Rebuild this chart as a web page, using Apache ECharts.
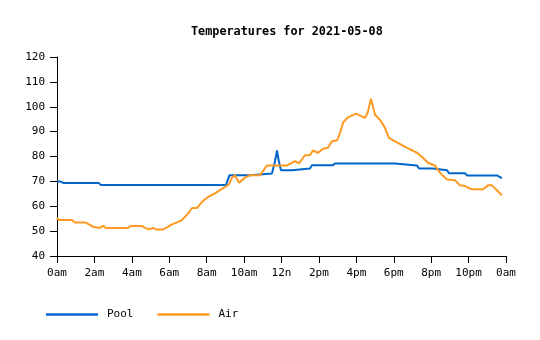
<!DOCTYPE html>
<html>
<head>
<meta charset="utf-8">
<script src="https://cdn.jsdelivr.net/npm/echarts@6/dist/echarts.min.js"></script>
<style>html,body{margin:0;padding:0;background:#fff}#c{width:540px;height:340px}</style>
</head>
<body>
<div id="c"></div>
<script>
const titleText = 'Temperatures for 2021-05-08';
const seriesNames = ['Pool', 'Air'];
const xTicks = [0, 2, 4, 6, 8, 10, 12, 14, 16, 18, 20, 22, 24];
const xTickLabels = ['0am','2am','4am','6am','8am','10am','12n','2pm','4pm','6pm','8pm','10pm','0am'];
const yTicks = [40, 50, 60, 70, 80, 90, 100, 110, 120];

// [hour, temperature]
const poolData = [
  [0, 70], [0.16, 70], [0.37, 69.3], [2.24, 69.3], [2.35, 68.5], [9.03, 68.5],
  [9.22, 72.5], [10.32, 72.5], [10.42, 73.2], [11.49, 73.2], [11.65, 78],
  [11.76, 82.4], [11.86, 78], [11.97, 74.5], [12.56, 74.5], [12.66, 75.2],
  [13.52, 75.2], [13.63, 76.5], [14.75, 76.5], [14.86, 77.2], [18.07, 77.2],
  [18.17, 76.4], [19.24, 76.4], [19.35, 75.2], [20.1, 75.2], [20.2, 74.5],
  [20.84, 74.5], [20.95, 73.3], [21.81, 73.3], [21.91, 72.4], [23.52, 72.4],
  [23.78, 71.3]
];
const airData = [
  [0, 55.3], [0.11, 54.5], [0.8, 54.5], [0.96, 53.5], [1.5, 53.5], [1.76, 52.5],
  [1.92, 51.8], [2.3, 51.3], [2.46, 52.1], [2.62, 51.3], [3.79, 51.3], [3.96, 52.1],
  [4.54, 52.1], [4.7, 51.3], [4.92, 50.7], [5.13, 51.3], [5.29, 50.7], [5.67, 50.7],
  [5.88, 51.5], [6.09, 52.5], [6.41, 53.5], [6.68, 54.4], [6.84, 55.8], [7.05, 57.5],
  [7.22, 59.3], [7.48, 59.3], [7.7, 61.3], [7.91, 62.8], [8.18, 64.2], [8.44, 65.2],
  [8.71, 66.5], [9.03, 68], [9.19, 68.8], [9.35, 71.5], [9.51, 72.5], [9.73, 69.5],
  [10.05, 71.5], [10.32, 72.5], [10.85, 72.5], [11.01, 74.1], [11.22, 76.4],
  [12.29, 76.4], [12.5, 77.2], [12.72, 78.1], [12.93, 77.2], [13.25, 80.5],
  [13.52, 80.5], [13.68, 82.4], [13.95, 81.5], [14.22, 83.1], [14.48, 83.5],
  [14.7, 86.1], [14.97, 86.5], [15.13, 89.5], [15.29, 93.7], [15.55, 95.7],
  [15.98, 97.2], [16.46, 95.5], [16.62, 98], [16.78, 103.2], [17.0, 96.8],
  [17.26, 94.8], [17.53, 91.5], [17.74, 87.5], [18.07, 86.1], [18.71, 83.5],
  [19.24, 81.5], [19.56, 79.5], [19.83, 77.5], [20.2, 76.4], [20.47, 73.5],
  [20.84, 70.8], [21.27, 70.5], [21.54, 68.4], [21.81, 68.1], [22.18, 66.8],
  [22.77, 66.8], [23.04, 68.4], [23.25, 68.4], [23.78, 64.4]
];

const FONT = '"DejaVu Sans Mono", "Liberation Mono", monospace';
const chart = echarts.init(document.getElementById('c'), null, {renderer: 'canvas'});
chart.setOption({
  animation: false,
  backgroundColor: '#fff',
  color: ['#0066cc', '#ff9922'],
  title: {
    text: titleText,
    left: 186, top: 21, padding: 5,
    textStyle: {fontFamily: FONT, fontSize: 11.8, fontWeight: 'bold', color: '#000'}
  },
  legend: {
    left: 46, top: 309, padding: 0,
    icon: 'rect', itemWidth: 52, itemHeight: 2.5, itemGap: 24,
    data: seriesNames,
    textStyle: {fontFamily: FONT, fontSize: 11, color: '#000', padding: [0, 0, 0, 4]}
  },
  grid: {left: 57, right: 34, top: 57, bottom: 84, containLabel: false},
  xAxis: {
    type: 'value', min: 0, max: 24, interval: 2,
    axisLine: {lineStyle: {color: '#000', width: 1}},
    axisTick: {show: true, length: 7, lineStyle: {color: '#000'}},
    splitLine: {show: false},
    axisLabel: {
      fontFamily: FONT, fontSize: 11, color: '#000', margin: 12,
      formatter: v => xTickLabels[xTicks.indexOf(v)]
    }
  },
  yAxis: {
    type: 'value', min: 40, max: 120, interval: 10,
    axisLine: {show: true, lineStyle: {color: '#000', width: 1}},
    axisTick: {show: true, length: 7, lineStyle: {color: '#000'}},
    splitLine: {show: false},
    axisLabel: {
      fontFamily: FONT, fontSize: 11, color: '#000', margin: 12,
      formatter: v => yTicks.includes(v) ? String(v) : ''
    }
  },
  series: [
    {name: seriesNames[0], type: 'line', data: poolData, showSymbol: false, lineStyle: {width: 2}},
    {name: seriesNames[1], type: 'line', data: airData, showSymbol: false, lineStyle: {width: 2}}
  ]
});
</script>
</body>
</html>
